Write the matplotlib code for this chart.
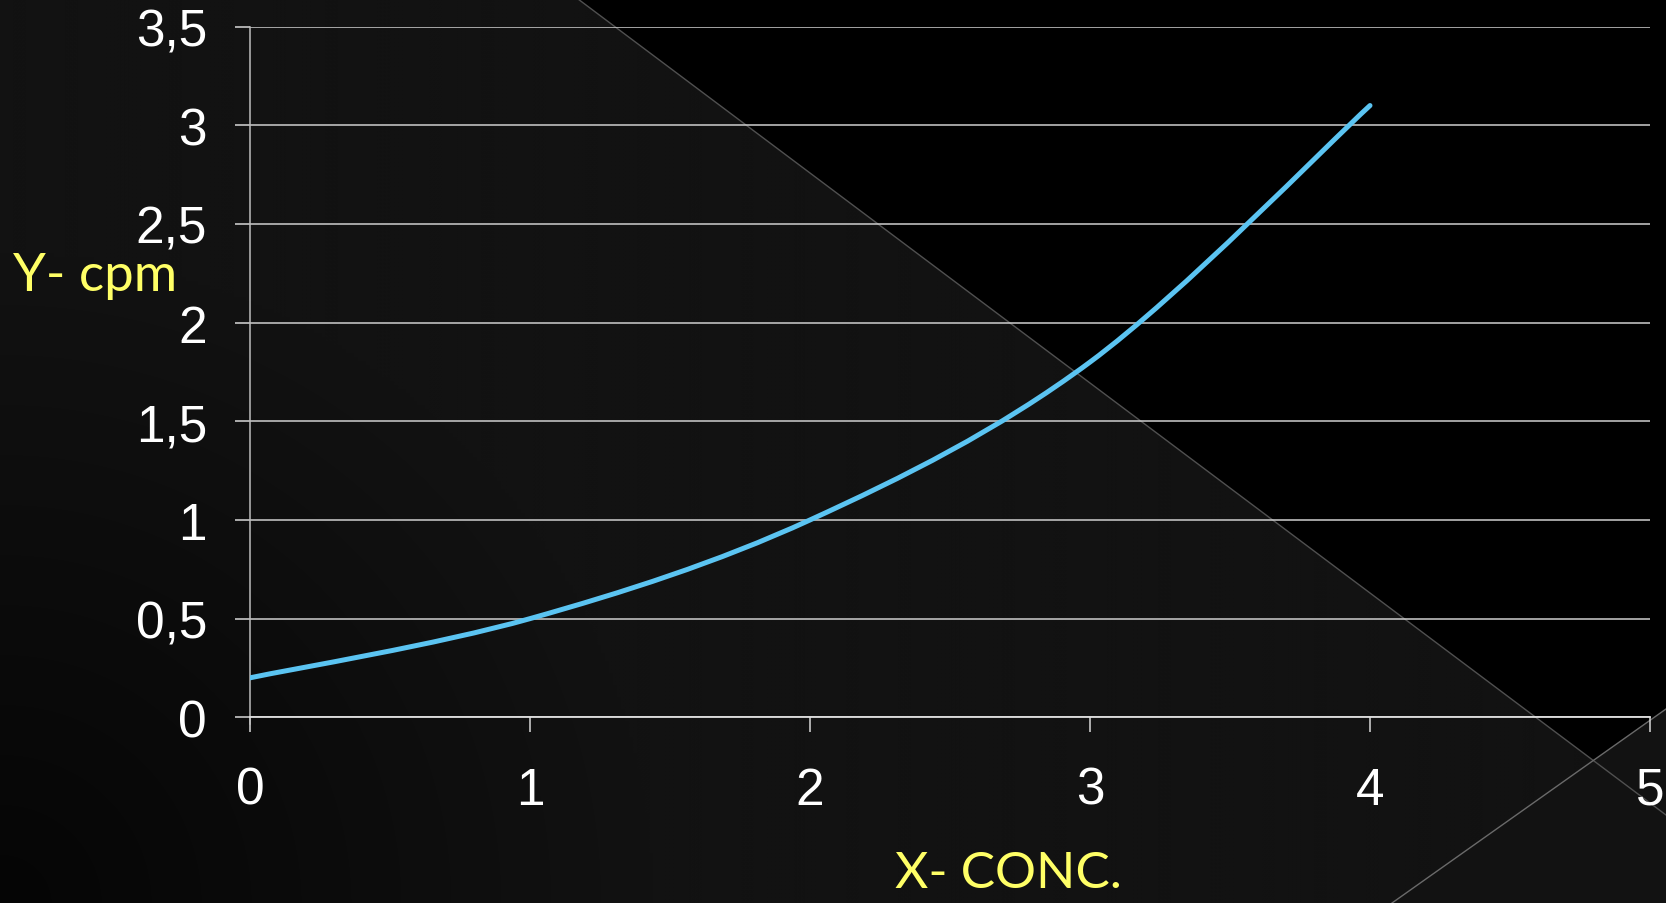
import numpy as np
import matplotlib
matplotlib.use("Agg")
import matplotlib.pyplot as plt
from matplotlib.path import Path
from matplotlib.patches import PathPatch, Polygon

# ---- data ----
x_vals = [0, 1, 2, 3, 4]
y_vals = [0.2, 0.5, 1.0, 1.8, 3.1]
x_ticks = [0, 1, 2, 3, 4, 5]
y_ticks = [0, 0.5, 1, 1.5, 2, 2.5, 3, 3.5]
y_tick_labels = ["0", "0,5", "1", "1,5", "2", "2,5", "3", "3,5"]
x_label = "X- CONC."
y_label = "Y- cpm"

W, H = 1666, 904
fig = plt.figure(figsize=(W / 100, H / 100), dpi=100)
fig.patch.set_facecolor("#050505")

# ---- background decoration ----
bg = fig.add_axes([0, 0, 1, 1], zorder=0)
bg.set_xlim(0, W)
bg.set_ylim(H, 0)
bg.axis("off")
yy, xx = np.mgrid[0:H:4, 0:W:4]
d = np.hypot(xx, H - yy)
v = 0x05 + (0x12 - 0x05) * np.clip(d / 650.0, 0, 1)
img = np.dstack([v, v, v]) / 255.0
bg.imshow(img, extent=[0, W, H, 0], aspect="auto", interpolation="bilinear")
bg.add_patch(Polygon([(578, 0), (W, 0), (W, 816)], closed=True,
                     facecolor="black", edgecolor="none"))
bg.plot([578, W], [0, 816], color="#505050", lw=1.0)
bg.add_patch(Polygon([(1392, H), (W, 710), (W, H)], closed=True,
                     facecolor="#121212", edgecolor="none"))
bg.plot([1392, W], [H, 710], color="#6a6a6a", lw=1.0)

# ---- chart ----
ax = fig.add_axes([250 / W, 1 - 718.3 / H, 1400 / W, (718.3 - 27.6) / H], zorder=2)
ax.patch.set_alpha(0)
ax.set_xlim(0, 5)
ax.set_ylim(0, 3.5)
for s in ["top", "right"]:
    ax.spines[s].set_visible(False)
ax.spines["left"].set_color("#bdbdbd")
ax.spines["left"].set_linewidth(1.1)
ax.spines["bottom"].set_color("#e0e0e0")
ax.spines["bottom"].set_linewidth(1.3)
ax.spines["left"].set_bounds(-0.035, 3.5)
ax.spines["left"].set_clip_on(False)

ax.set_yticks(y_ticks)
ax.set_yticklabels(y_tick_labels)
ax.set_xticks(x_ticks)
ax.tick_params(axis="both", colors="#d8d8d8", length=11, width=1.1,
               labelcolor="white", labelsize=37)
ax.tick_params(axis="y", pad=20)
ax.tick_params(axis="x", pad=24)
for lab in ax.get_xticklabels() + ax.get_yticklabels():
    lab.set_fontfamily(["Liberation Sans Narrow", "Liberation Sans"])
ax.grid(axis="y", color="#cfcfcf", lw=1.1)
ax.set_axisbelow(True)

# smoothed line (Catmull-Rom -> cubic Bezier, like spreadsheet smoothing)
P = np.column_stack([x_vals, y_vals]).astype(float)
n = len(P)
verts = [tuple(P[0])]
codes = [Path.MOVETO]
for i in range(n - 1):
    p0 = P[i - 1] if i > 0 else P[i]
    p1 = P[i]
    p2 = P[i + 1]
    p3 = P[i + 2] if i + 2 < n else P[i + 1]
    c1 = p1 + (p2 - p0) / 6.0
    c2 = p2 - (p3 - p1) / 6.0
    verts += [tuple(c1), tuple(c2), tuple(p2)]
    codes += [Path.CURVE4] * 3
ax.add_patch(PathPatch(Path(verts, codes), facecolor="none",
                       edgecolor="#5BC4F2", lw=3.6, capstyle="round",
                       zorder=3))

fig.text(13 / W, 1 - 277 / H, y_label, color="#FFFF66", fontsize=38,
         family="Lato", ha="left", va="center", zorder=5)
fig.text(1008 / W, 1 - 874 / H, x_label, color="#FFFF66", fontsize=37,
         family="Lato", ha="center", va="center", zorder=5)

fig.savefig("out.png", dpi=100, facecolor=fig.get_facecolor())
